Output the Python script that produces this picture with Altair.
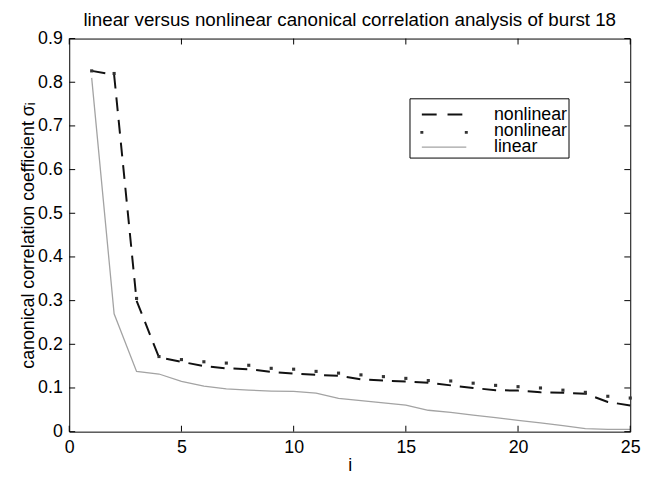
import altair as alt
import pandas as pd

# ---- data ----
i_vals = list(range(1, 26))
nonlinear_dashed = [0.826, 0.817, 0.300, 0.170, 0.160, 0.150, 0.145, 0.143, 0.137, 0.133,
                    0.130, 0.128, 0.120, 0.117, 0.115, 0.112, 0.106, 0.100, 0.095, 0.094,
                    0.090, 0.089, 0.087, 0.068, 0.060]
nonlinear_dotted = [0.826, 0.820, 0.305, 0.172, 0.165, 0.160, 0.157, 0.152, 0.145, 0.143,
                    0.138, 0.134, 0.130, 0.126, 0.122, 0.117, 0.116, 0.111, 0.106, 0.103,
                    0.100, 0.095, 0.090, 0.081, 0.077]
linear = [0.810, 0.270, 0.138, 0.132, 0.115, 0.104, 0.098, 0.095, 0.093, 0.092,
          0.088, 0.076, 0.071, 0.066, 0.061, 0.049, 0.044, 0.038, 0.032, 0.026,
          0.020, 0.014, 0.007, 0.005, 0.005]
x_ticks = [0, 5, 10, 15, 20, 25]
y_ticks = [0, 0.1, 0.2, 0.3, 0.4, 0.5, 0.6, 0.7, 0.8, 0.9]
legend_labels = ["nonlinear", "nonlinear", "linear"]
title_text = "linear versus nonlinear canonical correlation analysis of burst 18"
y_title = "canonical correlation coefficient σᵢ"
x_title = "i"

df = pd.DataFrame({"i": i_vals, "dashed": nonlinear_dashed,
                   "dotted": nonlinear_dotted, "linear": linear})

W, H = 568, 398
FONT = "Liberation Sans"

xs = alt.Scale(domain=[0, 25], nice=False, zero=False)
ys = alt.Scale(domain=[0, 0.9], nice=False)

x_axis = alt.Axis(values=x_ticks, title=x_title, ticks=False, domain=False, grid=False,
                  labelPadding=7, titlePadding=0, labelFontSize=18, titleFontSize=18,
                  labelFont=FONT, titleFont=FONT, titleFontWeight="normal",
                  labelColor="black", titleColor="black", labelFlush=False,
                  labelOverlap=False)
y_axis = alt.Axis(values=y_ticks, title=y_title, ticks=False, domain=False, grid=False,
                  labelPadding=7, titlePadding=0, labelFontSize=18, titleFontSize=18,
                  labelFont=FONT, titleFont=FONT, titleFontWeight="normal",
                  labelColor="black", titleColor="black", labelFlush=False,
                  labelOverlap=False,
                  labelExpr="datum.value == 0 ? '0' : format(datum.value, '.1f')")

base = alt.Chart(df)

lin = base.mark_line(color="#a3a3a3", strokeWidth=1.3).encode(
    x=alt.X("i:Q", scale=xs, axis=x_axis),
    y=alt.Y("linear:Q", scale=ys, axis=y_axis),
)
dash = base.mark_line(color="#111111", strokeWidth=2, strokeDash=[14, 9]).encode(
    x=alt.X("i:Q", scale=xs, axis=x_axis),
    y=alt.Y("dashed:Q", scale=ys, axis=y_axis),
)
dots = base.mark_square(color="#333333", size=10, opacity=1).encode(
    x=alt.X("i:Q", scale=xs, axis=x_axis),
    y=alt.Y("dotted:Q", scale=ys, axis=y_axis),
)

# inward ticks on all four sides (MATLAB style)
xt = alt.Chart(pd.DataFrame({"t": x_ticks}))
yt = alt.Chart(pd.DataFrame({"t": y_ticks}))
tick_b = xt.mark_rule(color="black", strokeWidth=1).encode(
    x=alt.X("t:Q", scale=xs, axis=x_axis), y=alt.value(H), y2=alt.value(H - 6))
tick_t = xt.mark_rule(color="black", strokeWidth=1).encode(
    x=alt.X("t:Q", scale=xs, axis=x_axis), y=alt.value(0), y2=alt.value(6))
tick_l = yt.mark_rule(color="black", strokeWidth=1).encode(
    y=alt.Y("t:Q", scale=ys, axis=y_axis), x=alt.value(0), x2=alt.value(6))
tick_r = yt.mark_rule(color="black", strokeWidth=1).encode(
    y=alt.Y("t:Q", scale=ys, axis=y_axis), x=alt.value(W), x2=alt.value(W - 6))

# legend drawn by hand
one = alt.Chart(pd.DataFrame({"k": [0]}))
leg_box = one.mark_rect(fill="white", stroke="black", strokeWidth=1).encode(
    x=alt.value(345), x2=alt.value(506), y=alt.value(61), y2=alt.value(121))
leg_dash = one.mark_rule(color="#111111", strokeWidth=2, strokeDash=[15, 11]).encode(
    x=alt.value(357), x2=alt.value(402), y=alt.value(77))
leg_dot = one.mark_rule(color="#333333", strokeWidth=3, strokeDash=[3, 42]).encode(
    x=alt.value(355.5), x2=alt.value(403.5), y=alt.value(95))
leg_lin = one.mark_rule(color="#a3a3a3", strokeWidth=1.3).encode(
    x=alt.value(357), x2=alt.value(402), y=alt.value(110))
leg_texts = [
    one.mark_text(align="left", baseline="middle", fontSize=18, font=FONT,
                  color="black", text=lab).encode(x=alt.value(430), y=alt.value(yy))
    for lab, yy in zip(legend_labels, [77, 94, 110])
]

chart = alt.layer(
    lin, dash, dots, tick_b, tick_t, tick_l, tick_r,
    leg_box, leg_dash, leg_dot, leg_lin, *leg_texts,
).properties(
    width=W, height=H,
    title=alt.TitleParams(title_text, fontSize=19, font=FONT, fontWeight="normal",
                          color="black", offset=0, anchor="middle"),
    autosize=alt.AutoSizeParams(type="none"),
    padding={"left": 62, "top": 28, "right": 20, "bottom": 46},
    background="white",
).configure_view(stroke="black", strokeWidth=1)

chart.save("out.html", embed_options={"renderer": "svg", "actions": False})
